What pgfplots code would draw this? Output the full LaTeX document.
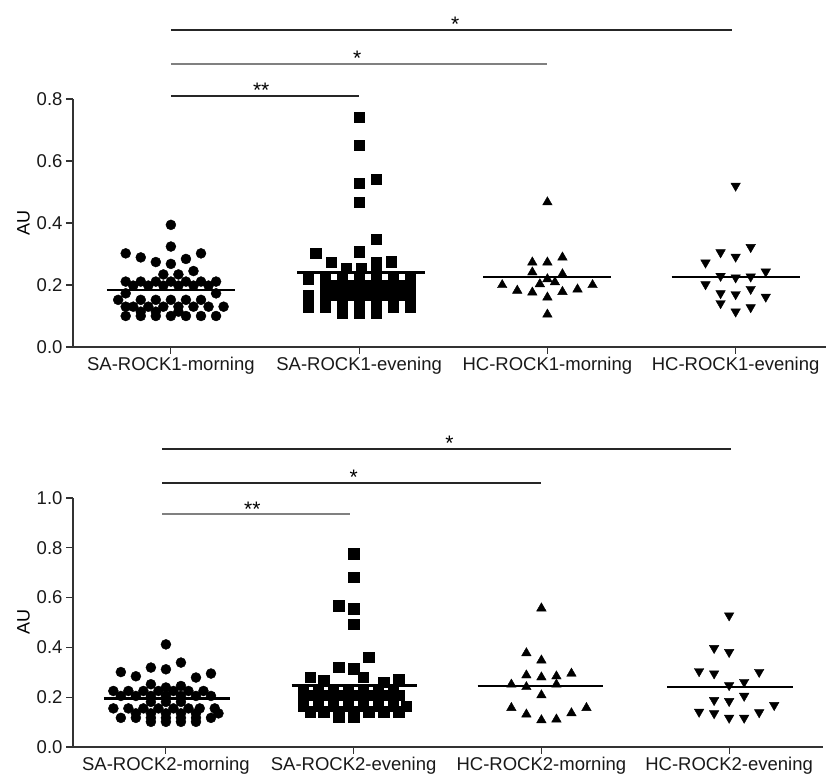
\documentclass[border=0pt]{standalone}
\usepackage{fontspec}
\setmainfont{Liberation Sans}
\usepackage{pgfplots}
\pgfplotsset{compat=1.18}

\definecolor{axisgray}{HTML}{333333}
\definecolor{siggray}{HTML}{808080}

\pgfplotsset{
  prism/.style={
    scale only axis,
    clip=false,
    axis x line*=bottom,
    axis y line*=left,
    axis line style={-, axisgray, line width=1.3pt},
    tick style={axisgray, line width=1.1pt},
    tick align=outside,
    major tick length=7pt,
    xtick={1,2,3,4},
    ymin=0,
    yticklabel style={/pgf/number format/.cd, fixed, fixed zerofill, precision=1},
    /pgf/number format/assume math mode=true,
    tick label style={font=\fontsize{18.5}{21}\selectfont, text=black!90},
    label style={font=\fontsize{18}{21}\selectfont},
    ylabel={AU},
    every axis plot/.append style={only marks, black},
  },
  meanline/.style={no marks, sharp plot, black, line width=2.6pt},
  sigline/.style={no marks, sharp plot, line width=1.8pt},
}
\tikzset{sigstar/.style={font=\fontsize{21}{24}\selectfont, anchor=base, yshift=-2pt}}

\begin{document}
\begin{tikzpicture}
\path[use as bounding box] (0,0) rectangle (827pt,775pt);

% ---------- ROCK1 ----------
\begin{axis}[prism,
  at={(73pt,428pt)}, anchor=south west,
  width=753pt, height=248pt,
  xmin=0.48, xmax=4.48, ymax=0.8,
  ytick={0,0.2,0.4,0.6,0.8},
  xticklabels={SA-ROCK1-morning,SA-ROCK1-evening,HC-ROCK1-morning,HC-ROCK1-evening},
]
% SA-ROCK1-morning
\addplot[mark=*, mark size=5pt] coordinates {
 (1.00,0.394) (1.00,0.324) (0.76,0.302) (0.84,0.289) (1.16,0.302) (0.92,0.274)
 (1.08,0.284) (1.00,0.268) (0.96,0.234) (1.04,0.234) (1.12,0.245)
 (0.76,0.211) (0.84,0.211) (0.92,0.211) (1.00,0.211) (1.08,0.211) (1.16,0.211) (1.24,0.211)
 (0.80,0.198) (0.88,0.198) (0.96,0.198) (1.04,0.198) (1.12,0.198) (1.20,0.198)
 (0.76,0.173) (1.24,0.173)
 (0.72,0.152) (0.84,0.152) (0.92,0.152) (1.00,0.152) (1.08,0.152) (1.16,0.152)
 (0.76,0.130) (0.80,0.130) (0.88,0.130) (0.96,0.130) (1.04,0.130) (1.12,0.130) (1.20,0.130) (1.28,0.130)
 (0.84,0.114) (0.92,0.114) (1.04,0.114)
 (0.76,0.100) (0.84,0.100) (0.92,0.100) (1.00,0.100) (1.08,0.100) (1.16,0.100) (1.24,0.100)
};
% SA-ROCK1-evening
\addplot[mark=square*, mark size=5.2pt] coordinates {
 (2.00,0.741) (2.00,0.650) (2.00,0.528) (2.09,0.542) (2.00,0.467) (2.09,0.348)
 (1.77,0.302) (2.00,0.307) (1.85,0.273) (2.09,0.273) (2.17,0.275)
 (1.93,0.254) (2.01,0.254) (2.09,0.254)
 (1.73,0.219) (1.82,0.219) (1.91,0.219) (2.00,0.219) (2.09,0.219) (2.18,0.219) (2.27,0.219)
 (1.87,0.200) (1.96,0.200) (2.05,0.200) (2.14,0.200) (2.23,0.200)
 (1.82,0.186) (1.91,0.186) (2.00,0.186) (2.09,0.186) (2.18,0.186) (2.27,0.186)
 (1.73,0.168) (1.87,0.168) (1.96,0.168) (2.05,0.168) (2.14,0.168) (2.23,0.168)
 (1.82,0.154) (1.91,0.154) (2.00,0.154) (2.09,0.154) (2.18,0.154) (2.27,0.154)
 (1.73,0.130) (1.82,0.130) (1.91,0.130) (2.00,0.130) (2.09,0.130) (2.18,0.130) (2.27,0.130)
 (1.91,0.109) (2.00,0.109) (2.09,0.109)
};
% HC-ROCK1-morning
\addplot[mark=triangle*, mark size=5.5pt] coordinates {
 (3.00,0.467) (3.08,0.289) (2.92,0.273) (3.00,0.273) (2.92,0.241) (3.08,0.235)
 (3.00,0.219) (2.76,0.200) (2.96,0.203) (3.04,0.209) (3.24,0.200) (2.84,0.182)
 (2.92,0.176) (3.08,0.178) (3.16,0.186) (3.00,0.160) (3.00,0.105)
};
% HC-ROCK1-evening
\addplot[mark=triangle*, mark size=5.5pt, mark options={rotate=180}] coordinates {
 (4.00,0.520) (4.08,0.322) (3.92,0.305) (4.00,0.291) (3.84,0.272) (4.16,0.243)
 (3.92,0.229) (4.00,0.224) (4.08,0.227) (3.84,0.202) (4.08,0.187) (3.92,0.173)
 (4.00,0.170) (4.16,0.162) (3.92,0.141) (4.08,0.128) (4.00,0.114)
};
% means
\addplot[meanline] coordinates {(0.66,0.184) (1.34,0.184)};
\addplot[meanline] coordinates {(1.67,0.240) (2.35,0.240)};
\addplot[meanline] coordinates {(2.66,0.226) (3.34,0.226)};
\addplot[meanline] coordinates {(3.66,0.226) (4.34,0.226)};
% significance
\addplot[sigline, black!85] coordinates {(1,1.023) (3.98,1.023)};
\addplot[sigline, siggray] coordinates {(1,0.913) (3,0.913)};
\addplot[sigline, black!85] coordinates {(1,0.810) (2,0.810)};
\node[sigstar] at (axis cs:2.51,1.023) {*};
\node[sigstar] at (axis cs:1.99,0.913) {*};
\node[sigstar] at (axis cs:1.48,0.810) {**};
\end{axis}

% ---------- ROCK2 ----------
\begin{axis}[prism,
  at={(73pt,28pt)}, anchor=south west,
  width=750pt, height=249pt,
  xmin=0.505, xmax=4.5, ymax=1.0,
  ytick={0,0.2,0.4,0.6,0.8,1.0},
  xticklabels={SA-ROCK2-morning,SA-ROCK2-evening,HC-ROCK2-morning,HC-ROCK2-evening},
]
% SA-ROCK2-morning
\addplot[mark=*, mark size=5pt] coordinates {
 (1.00,0.412) (1.08,0.339) (0.92,0.319) (1.00,0.312) (0.76,0.301) (1.24,0.295)
 (0.84,0.284) (1.16,0.279) (0.92,0.252) (1.00,0.239) (1.08,0.245)
 (0.72,0.225) (0.80,0.225) (0.88,0.225) (0.96,0.225) (1.04,0.225) (1.12,0.225) (1.20,0.225)
 (0.76,0.205) (0.84,0.205) (0.92,0.205) (1.00,0.205) (1.08,0.205) (1.16,0.205) (1.24,0.205)
 (0.92,0.181) (1.00,0.181) (1.08,0.181)
 (0.72,0.155) (0.80,0.155) (0.88,0.155) (0.96,0.155) (1.04,0.155) (1.12,0.155) (1.18,0.155) (1.26,0.155)
 (0.84,0.135) (0.92,0.135) (1.00,0.135) (1.08,0.135) (1.16,0.135) (1.28,0.135)
 (0.76,0.117) (0.84,0.117) (0.92,0.117) (1.00,0.117) (1.08,0.117) (1.16,0.117) (1.24,0.117)
 (0.92,0.101) (1.00,0.101) (1.08,0.101) (1.16,0.101)
};
% SA-ROCK2-evening
\addplot[mark=square*, mark size=5.2pt] coordinates {
 (2.00,0.777) (2.00,0.681) (1.92,0.568) (2.00,0.555) (2.00,0.492) (2.08,0.361)
 (1.92,0.321) (2.00,0.315) (1.77,0.281) (1.84,0.268) (2.24,0.271) (2.05,0.280) (2.16,0.261)
 (1.73,0.231) (1.81,0.231) (1.89,0.231) (1.97,0.231) (2.05,0.231) (2.13,0.231) (2.21,0.231)
 (1.77,0.208) (1.84,0.208) (1.92,0.208) (2.00,0.208) (2.08,0.208) (2.16,0.208) (2.24,0.208)
 (1.73,0.188) (1.81,0.188) (1.89,0.188) (1.97,0.188) (2.05,0.188) (2.13,0.188) (2.21,0.188)
 (1.73,0.164) (1.81,0.164) (1.89,0.164) (1.97,0.164) (2.05,0.164) (2.13,0.164) (2.21,0.164) (2.28,0.164)
 (1.77,0.141) (1.84,0.141) (1.92,0.141) (2.00,0.141) (2.08,0.141) (2.16,0.141) (2.24,0.141)
 (1.92,0.121) (2.00,0.121)
};
% HC-ROCK2-morning
\addplot[mark=triangle*, mark size=5.5pt] coordinates {
 (3.00,0.557) (2.92,0.377) (3.00,0.348) (2.92,0.288) (3.00,0.280) (3.08,0.284)
 (3.16,0.295) (2.84,0.251) (2.92,0.241) (3.08,0.251) (3.00,0.208) (2.84,0.157)
 (3.24,0.157) (2.92,0.131) (3.16,0.136) (3.00,0.108) (3.08,0.111)
};
% HC-ROCK2-evening
\addplot[mark=triangle*, mark size=5.5pt, mark options={rotate=180}] coordinates {
 (4.00,0.528) (3.92,0.397) (4.00,0.381) (3.84,0.304) (3.92,0.295) (4.16,0.301)
 (4.00,0.248) (4.08,0.261) (4.08,0.205) (3.92,0.188) (4.00,0.184) (4.24,0.168)
 (3.84,0.141) (3.92,0.135) (4.00,0.117) (4.08,0.117) (4.16,0.139)
};
% means
\addplot[meanline] coordinates {(0.67,0.195) (1.34,0.195)};
\addplot[meanline] coordinates {(1.67,0.248) (2.34,0.248)};
\addplot[meanline] coordinates {(2.66,0.245) (3.33,0.245)};
\addplot[meanline] coordinates {(3.67,0.241) (4.34,0.241)};
% significance
\addplot[sigline, black!85] coordinates {(0.98,1.197) (4.01,1.197)};
\addplot[sigline, black!85] coordinates {(0.98,1.061) (3.0,1.061)};
\addplot[sigline, siggray] coordinates {(0.98,0.935) (1.98,0.935)};
\node[sigstar] at (axis cs:2.51,1.197) {*};
\node[sigstar] at (axis cs:2.00,1.061) {*};
\node[sigstar] at (axis cs:1.46,0.935) {**};
\end{axis}
\end{tikzpicture}
\end{document}
